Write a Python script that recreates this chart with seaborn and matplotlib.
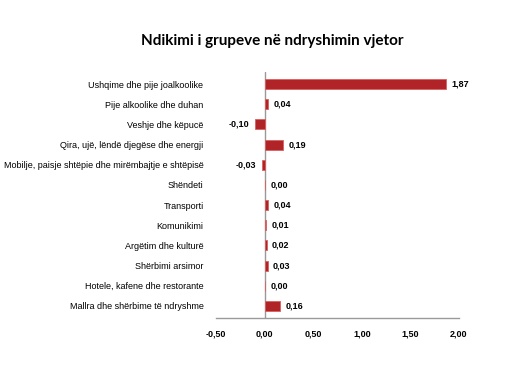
import pandas as pd
import seaborn as sns
import matplotlib.pyplot as plt

categories = [
    'Ushqime dhe pije joalkoolike',
    'Pije alkoolike dhe duhan',
    'Veshje dhe këpucë',
    'Qira, ujë, lëndë djegëse dhe energji',
    'Mobilje, paisje shtëpie dhe mirëmbajtje e shtëpisë',
    'Shëndeti',
    'Transporti',
    'Komunikimi',
    'Argëtim dhe kulturë',
    'Shërbimi arsimor',
    'Hotele, kafene dhe restorante',
    'Mallra dhe shërbime të ndryshme',
]
values = [1.87, 0.04, -0.10, 0.19, -0.03, 0.00, 0.04, 0.01, 0.02, 0.03, 0.00, 0.16]
xticks = [-0.5, 0.0, 0.5, 1.0, 1.5, 2.0]

df = pd.DataFrame({'grupi': categories, 'vlera': values})

sns.set_style('white')
plt.rcParams['font.family'] = ['Liberation Sans', 'DejaVu Sans']
plt.rcParams['text.color'] = 'black'
plt.rcParams['xtick.color'] = 'black'
plt.rcParams['ytick.color'] = 'black'

fig = plt.figure(figsize=(5.16, 3.71), dpi=100)
ax = fig.add_axes([216/516, 53/371, 243/516, 246/371])

sns.barplot(data=df, x='vlera', y='grupi', orient='h', color='#B02327',
            width=0.5, saturation=1, ax=ax, edgecolor='#D9605F', linewidth=0.6)

ax.set_xlim(-0.5, 2.0)
ax.set_xticks(xticks)
ax.set_xticklabels([f'{t:.2f}'.replace('.', ',') for t in xticks],
                   fontsize=6.5, fontweight='bold')
ax.tick_params(axis='x', length=0, pad=8)
ax.tick_params(axis='y', length=0, pad=9, labelsize=6.5)
ax.set_xlabel('')
ax.set_ylabel('')
ax.set_ylim(len(categories) - 0.4, -0.6)

for s in ['top', 'right', 'left']:
    ax.spines[s].set_visible(False)
ax.spines['bottom'].set_color('#999999')
ax.spines['bottom'].set_linewidth(1)
ax.axvline(0, color='#999999', lw=1, zorder=0)

for i, v in enumerate(values):
    txt = f'{v:.2f}'.replace('.', ',')
    if v < 0:
        ax.annotate(txt, (v, i), xytext=(-4, 0), textcoords='offset points',
                    ha='right', va='center', fontsize=6.5, fontweight='bold')
    else:
        ax.annotate(txt, (v, i), xytext=(4, 0), textcoords='offset points',
                    ha='left', va='center', fontsize=6.5, fontweight='bold')

fig.text(272/516, 1 - 41/371, 'Ndikimi i grupeve në ndryshimin vjetor',
         ha='center', va='center', fontsize=11, fontweight='bold',
         color='black', family=['Lato', 'DejaVu Sans'])

fig.savefig('out.png', dpi=100)
